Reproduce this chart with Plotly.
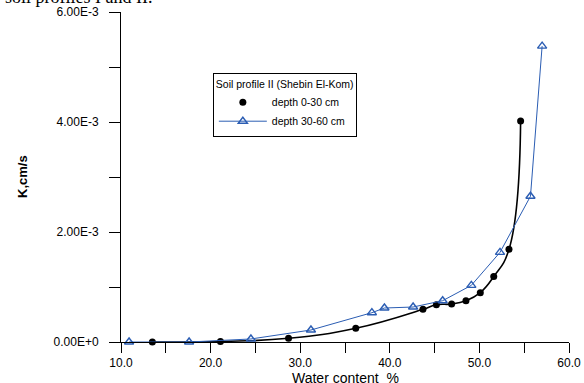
import plotly.graph_objects as go

# Data
x_top = [13.5, 21.1, 28.7, 36.2, 43.7, 45.2, 46.9, 48.5, 50.1, 51.6, 53.3, 54.6]
k_top = [0.0, 0.00001, 0.000067, 0.000249, 0.000594, 0.000678, 0.00069, 0.00075,
         0.000897, 0.00119, 0.001685, 0.00402]

x_sub = [10.9, 17.6, 24.5, 31.2, 38.0, 39.4, 42.6, 45.9, 49.1, 52.3, 55.7, 57.0]
k_sub = [0.0, 0.0, 0.000055, 0.000218, 0.000533, 0.000618, 0.000636, 0.000751,
         0.00103, 0.00163, 0.00265, 0.00538]

x_ticks = [10, 15, 20, 25, 30, 35, 40, 45, 50, 55, 60]
x_labels = ["10.0", "", "20.0", "", "30.0", "", "40.0", "", "50.0", "", "60.0"]
y_ticks = [0, 0.001, 0.002, 0.003, 0.004, 0.005, 0.006]
y_labels = ["0.00E+0", "", "2.00E-3", "", "4.00E-3", "", "6.00E-3"]

BLUE = "#2b5db3"
FONT = "Liberation Sans"

fig = go.Figure()

fig.add_trace(go.Scatter(
    x=x_top, y=k_top, mode="lines", line=dict(color="black", width=1.6, shape="spline", smoothing=1.3),
    showlegend=False, hoverinfo="skip", cliponaxis=False))
fig.add_trace(go.Scatter(
    x=x_top, y=k_top, mode="markers", name="depth 0-30 cm",
    marker=dict(symbol="circle", size=7, color="black"), cliponaxis=False))
fig.add_trace(go.Scatter(
    x=x_sub, y=k_sub, mode="lines+markers", name="depth 30-60 cm",
    line=dict(color=BLUE, width=1),
    marker=dict(symbol="triangle-up-open", size=8, color=BLUE, line=dict(width=1.4, color=BLUE)),
    cliponaxis=False))

fig.update_layout(
    width=584, height=383,
    margin=dict(l=121, r=15, t=12, b=41, autoexpand=False),
    paper_bgcolor="white", plot_bgcolor="white",
    font=dict(family=FONT, size=11, color="black"),
    showlegend=True,
    legend=dict(
        x=0.205, y=0.815, xanchor="left", yanchor="top",
        bordercolor="black", borderwidth=1, bgcolor="white",
        font=dict(family=FONT, size=10.5, color="black"),
        title=dict(text="Soil profile II (Shebin El-Kom)", side="top", font=dict(family=FONT, size=10.5)),
        itemwidth=48, tracegroupgap=0,
    ),
    xaxis=dict(
        range=[10, 60], showline=True, linecolor="black", linewidth=1,
        ticks="outside", ticklen=10, tickwidth=1, tickcolor="black",
        tickmode="array", tickvals=x_ticks, ticktext=x_labels,
        showgrid=False, zeroline=False, tickfont=dict(family=FONT, size=12),
        ticklabelstandoff=0,
    ),
    yaxis=dict(
        range=[0, 0.006], showline=True, linecolor="black", linewidth=1,
        ticks="outside", ticklen=11, tickwidth=1, tickcolor="black",
        tickmode="array", tickvals=y_ticks, ticktext=y_labels,
        showgrid=False, zeroline=False, tickfont=dict(family=FONT, size=12),
        ticklabelstandoff=8,
    ),
    annotations=[
        dict(text="Water content  %", xref="paper", yref="paper", x=0.5, y=0.0,
             yshift=-46, xanchor="center", yanchor="bottom", showarrow=False,
             font=dict(family=FONT, size=14)),
        dict(text="<b>K,cm/s</b>", xref="paper", yref="paper", x=0, xshift=-99, y=0.5,
             textangle=-90, xanchor="center", yanchor="middle", showarrow=False,
             font=dict(family=FONT, size=13)),
        dict(text="soil profiles I and II.", xref="paper", yref="paper", x=0, xshift=-118, y=1.0,
             yshift=3, xanchor="left", yanchor="bottom", showarrow=False,
             font=dict(family="Liberation Serif", size=18)),
    ],
)

fig.write_html("out.html", config={"displayModeBar": False},
               post_script="document.body.style.margin='0';document.body.style.overflow='hidden';")
